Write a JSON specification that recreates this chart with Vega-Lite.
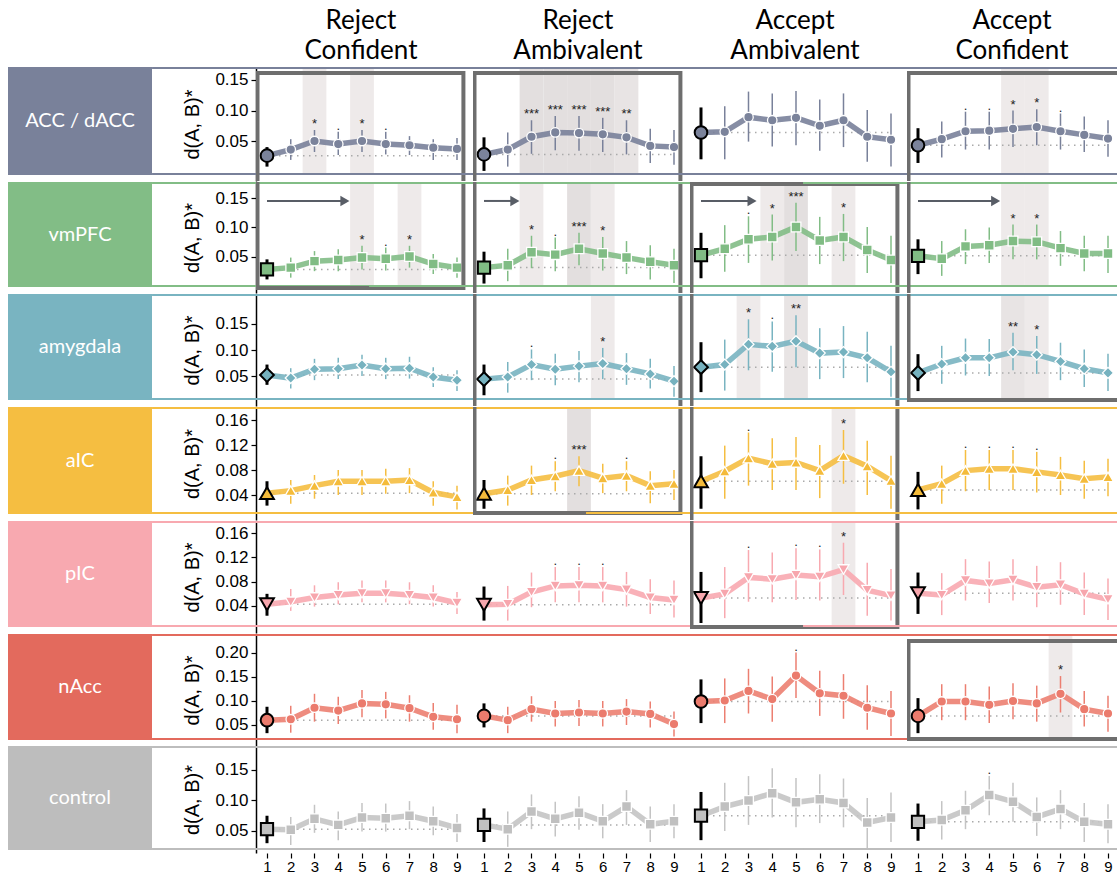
{
"$schema":"https://vega.github.io/schema/vega-lite/v6.json",
"background":"white",
"padding":{"left":8,"top":0,"right":0,"bottom":0},
"spacing":0,
"config":{"view":{"stroke":null},"text":{"font":"Liberation Sans"},
"axisY":{"labelFont":"Liberation Sans","labelFontSize":17,"labelColor":"black","labelOverlap":false,"tickCount":12,"domainColor":"black","domainWidth":1.5,"tickColor":"black","tickSize":5,"tickWidth":1.2,"labelPadding":3,"titleFont":"Liberation Sans","titleFontSize":20,"titleFontWeight":"normal","titleColor":"black","titlePadding":12,"grid":false},
"axisX":{"labelFont":"Liberation Sans","labelFontSize":15,"labelColor":"black","labelOverlap":false,"tickCount":12,"domain":false,"tickColor":"black","tickSize":5,"tickWidth":1.2,"labelPadding":1,"grid":false,"labelAngle":0}},
"datasets":{
"conds":[{"c":"RC","t":"Reject Confident"},{"c":"RA","t":"Reject Ambivalent"},{"c":"AA","t":"Accept Ambivalent"},{"c":"AC","t":"Accept Confident"}],
"reg":[{"r":"acc","n":"ACC / dACC"},{"r":"vm","n":"vmPFC"},{"r":"amy","n":"amygdala"},{"r":"aic","n":"aIC"},{"r":"pic","n":"pIC"},{"r":"nac","n":"nAcc"},{"r":"ctl","n":"control"}],
"d":[
{"r":"acc","c":"RC","x":1,"v":0.026,"lo":0.008,"hi":0.040},
{"r":"acc","c":"RC","x":2,"v":0.036,"lo":0.019,"hi":0.053},
{"r":"acc","c":"RC","x":3,"v":0.050,"lo":0.032,"hi":0.068,"s":"*"},
{"r":"acc","c":"RC","x":4,"v":0.045,"lo":0.027,"hi":0.065,"s":"."},
{"r":"acc","c":"RC","x":5,"v":0.050,"lo":0.032,"hi":0.068,"s":"*"},
{"r":"acc","c":"RC","x":6,"v":0.045,"lo":0.028,"hi":0.065,"s":"."},
{"r":"acc","c":"RC","x":7,"v":0.043,"lo":0.027,"hi":0.058},
{"r":"acc","c":"RC","x":8,"v":0.039,"lo":0.019,"hi":0.053},
{"r":"acc","c":"RC","x":9,"v":0.037,"lo":0.019,"hi":0.055},
{"r":"acc","c":"RA","x":1,"v":0.028,"lo":0.001,"hi":0.056},
{"r":"acc","c":"RA","x":2,"v":0.036,"lo":0.008,"hi":0.064},
{"r":"acc","c":"RA","x":3,"v":0.057,"lo":0.029,"hi":0.084,"s":"***"},
{"r":"acc","c":"RA","x":4,"v":0.064,"lo":0.035,"hi":0.091,"s":"***"},
{"r":"acc","c":"RA","x":5,"v":0.063,"lo":0.034,"hi":0.091,"s":"***"},
{"r":"acc","c":"RA","x":6,"v":0.061,"lo":0.032,"hi":0.088,"s":"***"},
{"r":"acc","c":"RA","x":7,"v":0.056,"lo":0.028,"hi":0.084,"s":"**"},
{"r":"acc","c":"RA","x":8,"v":0.042,"lo":0.014,"hi":0.070},
{"r":"acc","c":"RA","x":9,"v":0.040,"lo":0.011,"hi":0.068},
{"r":"acc","c":"AA","x":1,"v":0.064,"lo":0.020,"hi":0.105},
{"r":"acc","c":"AA","x":2,"v":0.065,"lo":0.020,"hi":0.107},
{"r":"acc","c":"AA","x":3,"v":0.089,"lo":0.049,"hi":0.131},
{"r":"acc","c":"AA","x":4,"v":0.084,"lo":0.041,"hi":0.128},
{"r":"acc","c":"AA","x":5,"v":0.088,"lo":0.043,"hi":0.132},
{"r":"acc","c":"AA","x":6,"v":0.075,"lo":0.034,"hi":0.118},
{"r":"acc","c":"AA","x":7,"v":0.084,"lo":0.040,"hi":0.128},
{"r":"acc","c":"AA","x":8,"v":0.057,"lo":0.016,"hi":0.101},
{"r":"acc","c":"AA","x":9,"v":0.052,"lo":0.008,"hi":0.095},
{"r":"acc","c":"AC","x":1,"v":0.043,"lo":0.014,"hi":0.071},
{"r":"acc","c":"AC","x":2,"v":0.053,"lo":0.023,"hi":0.082},
{"r":"acc","c":"AC","x":3,"v":0.066,"lo":0.036,"hi":0.098,"s":"."},
{"r":"acc","c":"AC","x":4,"v":0.067,"lo":0.036,"hi":0.098,"s":"."},
{"r":"acc","c":"AC","x":5,"v":0.070,"lo":0.040,"hi":0.100,"s":"*"},
{"r":"acc","c":"AC","x":6,"v":0.073,"lo":0.043,"hi":0.102,"s":"*"},
{"r":"acc","c":"AC","x":7,"v":0.066,"lo":0.036,"hi":0.095,"s":"."},
{"r":"acc","c":"AC","x":8,"v":0.060,"lo":0.032,"hi":0.090},
{"r":"acc","c":"AC","x":9,"v":0.054,"lo":0.024,"hi":0.084},
{"r":"vm","c":"RC","x":1,"v":0.029,"lo":0.012,"hi":0.046},
{"r":"vm","c":"RC","x":2,"v":0.032,"lo":0.015,"hi":0.049},
{"r":"vm","c":"RC","x":3,"v":0.043,"lo":0.026,"hi":0.060},
{"r":"vm","c":"RC","x":4,"v":0.045,"lo":0.026,"hi":0.063},
{"r":"vm","c":"RC","x":5,"v":0.049,"lo":0.029,"hi":0.069,"s":"*"},
{"r":"vm","c":"RC","x":6,"v":0.047,"lo":0.027,"hi":0.066,"s":"."},
{"r":"vm","c":"RC","x":7,"v":0.051,"lo":0.032,"hi":0.069,"s":"*"},
{"r":"vm","c":"RC","x":8,"v":0.038,"lo":0.021,"hi":0.055},
{"r":"vm","c":"RC","x":9,"v":0.032,"lo":0.015,"hi":0.049},
{"r":"vm","c":"RA","x":1,"v":0.032,"lo":0.005,"hi":0.059},
{"r":"vm","c":"RA","x":2,"v":0.036,"lo":0.009,"hi":0.064},
{"r":"vm","c":"RA","x":3,"v":0.058,"lo":0.031,"hi":0.086,"s":"*"},
{"r":"vm","c":"RA","x":4,"v":0.054,"lo":0.026,"hi":0.083,"s":"."},
{"r":"vm","c":"RA","x":5,"v":0.064,"lo":0.036,"hi":0.091,"s":"***"},
{"r":"vm","c":"RA","x":6,"v":0.056,"lo":0.027,"hi":0.084,"s":"*"},
{"r":"vm","c":"RA","x":7,"v":0.049,"lo":0.021,"hi":0.077},
{"r":"vm","c":"RA","x":8,"v":0.042,"lo":0.012,"hi":0.070},
{"r":"vm","c":"RA","x":9,"v":0.036,"lo":0.006,"hi":0.064},
{"r":"vm","c":"AA","x":1,"v":0.053,"lo":0.014,"hi":0.091},
{"r":"vm","c":"AA","x":2,"v":0.064,"lo":0.025,"hi":0.104},
{"r":"vm","c":"AA","x":3,"v":0.080,"lo":0.040,"hi":0.119,"s":"."},
{"r":"vm","c":"AA","x":4,"v":0.084,"lo":0.044,"hi":0.122,"s":"*"},
{"r":"vm","c":"AA","x":5,"v":0.101,"lo":0.060,"hi":0.142,"s":"***"},
{"r":"vm","c":"AA","x":6,"v":0.078,"lo":0.038,"hi":0.118},
{"r":"vm","c":"AA","x":7,"v":0.084,"lo":0.043,"hi":0.123,"s":"*"},
{"r":"vm","c":"AA","x":8,"v":0.062,"lo":0.023,"hi":0.101},
{"r":"vm","c":"AA","x":9,"v":0.045,"lo":0.006,"hi":0.086},
{"r":"vm","c":"AC","x":1,"v":0.052,"lo":0.021,"hi":0.080},
{"r":"vm","c":"AC","x":2,"v":0.047,"lo":0.018,"hi":0.077},
{"r":"vm","c":"AC","x":3,"v":0.068,"lo":0.038,"hi":0.097},
{"r":"vm","c":"AC","x":4,"v":0.070,"lo":0.040,"hi":0.100},
{"r":"vm","c":"AC","x":5,"v":0.077,"lo":0.046,"hi":0.105,"s":"*"},
{"r":"vm","c":"AC","x":6,"v":0.076,"lo":0.046,"hi":0.105,"s":"*"},
{"r":"vm","c":"AC","x":7,"v":0.065,"lo":0.035,"hi":0.094},
{"r":"vm","c":"AC","x":8,"v":0.056,"lo":0.026,"hi":0.086},
{"r":"vm","c":"AC","x":9,"v":0.056,"lo":0.023,"hi":0.086},
{"r":"amy","c":"RC","x":1,"v":0.052,"lo":0.033,"hi":0.072},
{"r":"amy","c":"RC","x":2,"v":0.046,"lo":0.026,"hi":0.065},
{"r":"amy","c":"RC","x":3,"v":0.063,"lo":0.042,"hi":0.083},
{"r":"amy","c":"RC","x":4,"v":0.064,"lo":0.044,"hi":0.085},
{"r":"amy","c":"RC","x":5,"v":0.071,"lo":0.050,"hi":0.091},
{"r":"amy","c":"RC","x":6,"v":0.064,"lo":0.044,"hi":0.085},
{"r":"amy","c":"RC","x":7,"v":0.065,"lo":0.045,"hi":0.087},
{"r":"amy","c":"RC","x":8,"v":0.048,"lo":0.029,"hi":0.067},
{"r":"amy","c":"RC","x":9,"v":0.042,"lo":0.021,"hi":0.061},
{"r":"amy","c":"RA","x":1,"v":0.044,"lo":0.013,"hi":0.072},
{"r":"amy","c":"RA","x":2,"v":0.048,"lo":0.018,"hi":0.077},
{"r":"amy","c":"RA","x":3,"v":0.072,"lo":0.042,"hi":0.101,"s":"."},
{"r":"amy","c":"RA","x":4,"v":0.063,"lo":0.032,"hi":0.093},
{"r":"amy","c":"RA","x":5,"v":0.069,"lo":0.038,"hi":0.098},
{"r":"amy","c":"RA","x":6,"v":0.074,"lo":0.044,"hi":0.104,"s":"*"},
{"r":"amy","c":"RA","x":7,"v":0.064,"lo":0.033,"hi":0.094},
{"r":"amy","c":"RA","x":8,"v":0.054,"lo":0.026,"hi":0.083},
{"r":"amy","c":"RA","x":9,"v":0.040,"lo":0.010,"hi":0.069},
{"r":"amy","c":"AA","x":1,"v":0.067,"lo":0.019,"hi":0.115},
{"r":"amy","c":"AA","x":2,"v":0.072,"lo":0.022,"hi":0.120},
{"r":"amy","c":"AA","x":3,"v":0.111,"lo":0.061,"hi":0.159,"s":"*"},
{"r":"amy","c":"AA","x":4,"v":0.107,"lo":0.058,"hi":0.155,"s":"."},
{"r":"amy","c":"AA","x":5,"v":0.117,"lo":0.067,"hi":0.167,"s":"**"},
{"r":"amy","c":"AA","x":6,"v":0.094,"lo":0.044,"hi":0.142},
{"r":"amy","c":"AA","x":7,"v":0.096,"lo":0.046,"hi":0.146},
{"r":"amy","c":"AA","x":8,"v":0.085,"lo":0.038,"hi":0.135},
{"r":"amy","c":"AA","x":9,"v":0.058,"lo":0.010,"hi":0.108},
{"r":"amy","c":"AC","x":1,"v":0.056,"lo":0.021,"hi":0.092},
{"r":"amy","c":"AC","x":2,"v":0.073,"lo":0.035,"hi":0.108},
{"r":"amy","c":"AC","x":3,"v":0.085,"lo":0.051,"hi":0.122},
{"r":"amy","c":"AC","x":4,"v":0.085,"lo":0.050,"hi":0.121},
{"r":"amy","c":"AC","x":5,"v":0.096,"lo":0.061,"hi":0.133,"s":"**"},
{"r":"amy","c":"AC","x":6,"v":0.091,"lo":0.054,"hi":0.127,"s":"*"},
{"r":"amy","c":"AC","x":7,"v":0.078,"lo":0.042,"hi":0.114},
{"r":"amy","c":"AC","x":8,"v":0.064,"lo":0.029,"hi":0.101},
{"r":"amy","c":"AC","x":9,"v":0.056,"lo":0.021,"hi":0.093},
{"r":"aic","c":"RC","x":1,"v":0.043,"lo":0.023,"hi":0.062},
{"r":"aic","c":"RC","x":2,"v":0.047,"lo":0.026,"hi":0.064},
{"r":"aic","c":"RC","x":3,"v":0.055,"lo":0.034,"hi":0.072},
{"r":"aic","c":"RC","x":4,"v":0.062,"lo":0.040,"hi":0.080},
{"r":"aic","c":"RC","x":5,"v":0.062,"lo":0.040,"hi":0.080},
{"r":"aic","c":"RC","x":6,"v":0.062,"lo":0.042,"hi":0.082},
{"r":"aic","c":"RC","x":7,"v":0.064,"lo":0.043,"hi":0.083},
{"r":"aic","c":"RC","x":8,"v":0.044,"lo":0.023,"hi":0.062},
{"r":"aic","c":"RC","x":9,"v":0.037,"lo":0.017,"hi":0.055},
{"r":"aic","c":"RA","x":1,"v":0.042,"lo":0.018,"hi":0.064},
{"r":"aic","c":"RA","x":2,"v":0.048,"lo":0.023,"hi":0.071},
{"r":"aic","c":"RA","x":3,"v":0.064,"lo":0.040,"hi":0.087},
{"r":"aic","c":"RA","x":4,"v":0.070,"lo":0.046,"hi":0.094,"s":"."},
{"r":"aic","c":"RA","x":5,"v":0.079,"lo":0.054,"hi":0.102,"s":"***"},
{"r":"aic","c":"RA","x":6,"v":0.067,"lo":0.043,"hi":0.090},
{"r":"aic","c":"RA","x":7,"v":0.071,"lo":0.046,"hi":0.094,"s":"."},
{"r":"aic","c":"RA","x":8,"v":0.055,"lo":0.027,"hi":0.078},
{"r":"aic","c":"RA","x":9,"v":0.058,"lo":0.032,"hi":0.080},
{"r":"aic","c":"AA","x":1,"v":0.062,"lo":0.018,"hi":0.102},
{"r":"aic","c":"AA","x":2,"v":0.078,"lo":0.034,"hi":0.119},
{"r":"aic","c":"AA","x":3,"v":0.099,"lo":0.055,"hi":0.140,"s":"."},
{"r":"aic","c":"AA","x":4,"v":0.090,"lo":0.048,"hi":0.131},
{"r":"aic","c":"AA","x":5,"v":0.092,"lo":0.048,"hi":0.133},
{"r":"aic","c":"AA","x":6,"v":0.079,"lo":0.035,"hi":0.120},
{"r":"aic","c":"AA","x":7,"v":0.103,"lo":0.058,"hi":0.144,"s":"*"},
{"r":"aic","c":"AA","x":8,"v":0.086,"lo":0.040,"hi":0.127},
{"r":"aic","c":"AA","x":9,"v":0.063,"lo":0.018,"hi":0.103},
{"r":"aic","c":"AC","x":1,"v":0.048,"lo":0.017,"hi":0.077},
{"r":"aic","c":"AC","x":2,"v":0.058,"lo":0.026,"hi":0.087},
{"r":"aic","c":"AC","x":3,"v":0.079,"lo":0.046,"hi":0.112,"s":"."},
{"r":"aic","c":"AC","x":4,"v":0.082,"lo":0.048,"hi":0.112,"s":"."},
{"r":"aic","c":"AC","x":5,"v":0.082,"lo":0.048,"hi":0.112,"s":"."},
{"r":"aic","c":"AC","x":6,"v":0.077,"lo":0.044,"hi":0.109,"s":"."},
{"r":"aic","c":"AC","x":7,"v":0.072,"lo":0.040,"hi":0.101},
{"r":"aic","c":"AC","x":8,"v":0.066,"lo":0.034,"hi":0.095},
{"r":"aic","c":"AC","x":9,"v":0.069,"lo":0.038,"hi":0.098},
{"r":"pic","c":"RC","x":1,"v":0.043,"lo":0.024,"hi":0.060},
{"r":"pic","c":"RC","x":2,"v":0.047,"lo":0.032,"hi":0.068},
{"r":"pic","c":"RC","x":3,"v":0.054,"lo":0.039,"hi":0.074},
{"r":"pic","c":"RC","x":4,"v":0.058,"lo":0.043,"hi":0.079},
{"r":"pic","c":"RC","x":5,"v":0.061,"lo":0.046,"hi":0.082},
{"r":"pic","c":"RC","x":6,"v":0.061,"lo":0.046,"hi":0.082},
{"r":"pic","c":"RC","x":7,"v":0.058,"lo":0.043,"hi":0.079},
{"r":"pic","c":"RC","x":8,"v":0.054,"lo":0.039,"hi":0.074},
{"r":"pic","c":"RC","x":9,"v":0.045,"lo":0.027,"hi":0.063},
{"r":"pic","c":"RA","x":1,"v":0.042,"lo":0.016,"hi":0.072},
{"r":"pic","c":"RA","x":2,"v":0.043,"lo":0.016,"hi":0.073},
{"r":"pic","c":"RA","x":3,"v":0.063,"lo":0.038,"hi":0.095},
{"r":"pic","c":"RA","x":4,"v":0.073,"lo":0.046,"hi":0.104,"s":"."},
{"r":"pic","c":"RA","x":5,"v":0.074,"lo":0.046,"hi":0.104,"s":"."},
{"r":"pic","c":"RA","x":6,"v":0.073,"lo":0.046,"hi":0.104,"s":"."},
{"r":"pic","c":"RA","x":7,"v":0.067,"lo":0.039,"hi":0.096},
{"r":"pic","c":"RA","x":8,"v":0.054,"lo":0.027,"hi":0.084},
{"r":"pic","c":"RA","x":9,"v":0.050,"lo":0.021,"hi":0.082},
{"r":"pic","c":"AA","x":1,"v":0.053,"lo":0.012,"hi":0.096},
{"r":"pic","c":"AA","x":2,"v":0.060,"lo":0.020,"hi":0.104},
{"r":"pic","c":"AA","x":3,"v":0.087,"lo":0.047,"hi":0.132,"s":"."},
{"r":"pic","c":"AA","x":4,"v":0.084,"lo":0.046,"hi":0.128},
{"r":"pic","c":"AA","x":5,"v":0.091,"lo":0.050,"hi":0.135,"s":"."},
{"r":"pic","c":"AA","x":6,"v":0.088,"lo":0.049,"hi":0.133,"s":"."},
{"r":"pic","c":"AA","x":7,"v":0.100,"lo":0.058,"hi":0.144,"s":"*"},
{"r":"pic","c":"AA","x":8,"v":0.066,"lo":0.024,"hi":0.111},
{"r":"pic","c":"AA","x":9,"v":0.057,"lo":0.016,"hi":0.101},
{"r":"pic","c":"AC","x":1,"v":0.061,"lo":0.027,"hi":0.095},
{"r":"pic","c":"AC","x":2,"v":0.058,"lo":0.025,"hi":0.094},
{"r":"pic","c":"AC","x":3,"v":0.082,"lo":0.049,"hi":0.117},
{"r":"pic","c":"AC","x":4,"v":0.077,"lo":0.045,"hi":0.113},
{"r":"pic","c":"AC","x":5,"v":0.083,"lo":0.049,"hi":0.117},
{"r":"pic","c":"AC","x":6,"v":0.071,"lo":0.038,"hi":0.106},
{"r":"pic","c":"AC","x":7,"v":0.075,"lo":0.042,"hi":0.112},
{"r":"pic","c":"AC","x":8,"v":0.060,"lo":0.025,"hi":0.095},
{"r":"pic","c":"AC","x":9,"v":0.051,"lo":0.017,"hi":0.085},
{"r":"nac","c":"RC","x":1,"v":0.060,"lo":0.033,"hi":0.088},
{"r":"nac","c":"RC","x":2,"v":0.062,"lo":0.034,"hi":0.090},
{"r":"nac","c":"RC","x":3,"v":0.086,"lo":0.057,"hi":0.115},
{"r":"nac","c":"RC","x":4,"v":0.080,"lo":0.052,"hi":0.109},
{"r":"nac","c":"RC","x":5,"v":0.095,"lo":0.066,"hi":0.123},
{"r":"nac","c":"RC","x":6,"v":0.093,"lo":0.064,"hi":0.119},
{"r":"nac","c":"RC","x":7,"v":0.085,"lo":0.057,"hi":0.112},
{"r":"nac","c":"RC","x":8,"v":0.067,"lo":0.040,"hi":0.096},
{"r":"nac","c":"RC","x":9,"v":0.062,"lo":0.033,"hi":0.092},
{"r":"nac","c":"RA","x":1,"v":0.069,"lo":0.045,"hi":0.095},
{"r":"nac","c":"RA","x":2,"v":0.060,"lo":0.033,"hi":0.088},
{"r":"nac","c":"RA","x":3,"v":0.083,"lo":0.057,"hi":0.110},
{"r":"nac","c":"RA","x":4,"v":0.074,"lo":0.047,"hi":0.100},
{"r":"nac","c":"RA","x":5,"v":0.076,"lo":0.048,"hi":0.102},
{"r":"nac","c":"RA","x":6,"v":0.074,"lo":0.047,"hi":0.100},
{"r":"nac","c":"RA","x":7,"v":0.078,"lo":0.050,"hi":0.104},
{"r":"nac","c":"RA","x":8,"v":0.073,"lo":0.045,"hi":0.099},
{"r":"nac","c":"RA","x":9,"v":0.052,"lo":0.026,"hi":0.078},
{"r":"nac","c":"AA","x":1,"v":0.099,"lo":0.054,"hi":0.145},
{"r":"nac","c":"AA","x":2,"v":0.101,"lo":0.054,"hi":0.147},
{"r":"nac","c":"AA","x":3,"v":0.121,"lo":0.074,"hi":0.167},
{"r":"nac","c":"AA","x":4,"v":0.104,"lo":0.057,"hi":0.151},
{"r":"nac","c":"AA","x":5,"v":0.153,"lo":0.106,"hi":0.201,"s":"."},
{"r":"nac","c":"AA","x":6,"v":0.116,"lo":0.069,"hi":0.163},
{"r":"nac","c":"AA","x":7,"v":0.111,"lo":0.063,"hi":0.156},
{"r":"nac","c":"AA","x":8,"v":0.086,"lo":0.040,"hi":0.133},
{"r":"nac","c":"AA","x":9,"v":0.074,"lo":0.027,"hi":0.121},
{"r":"nac","c":"AC","x":1,"v":0.069,"lo":0.033,"hi":0.106},
{"r":"nac","c":"AC","x":2,"v":0.099,"lo":0.060,"hi":0.135},
{"r":"nac","c":"AC","x":3,"v":0.099,"lo":0.060,"hi":0.135},
{"r":"nac","c":"AC","x":4,"v":0.092,"lo":0.054,"hi":0.130},
{"r":"nac","c":"AC","x":5,"v":0.100,"lo":0.062,"hi":0.137},
{"r":"nac","c":"AC","x":6,"v":0.095,"lo":0.057,"hi":0.132},
{"r":"nac","c":"AC","x":7,"v":0.115,"lo":0.076,"hi":0.152,"s":"*"},
{"r":"nac","c":"AC","x":8,"v":0.083,"lo":0.047,"hi":0.121},
{"r":"nac","c":"AC","x":9,"v":0.074,"lo":0.036,"hi":0.111},
{"r":"ctl","c":"RC","x":1,"v":0.053,"lo":0.030,"hi":0.075},
{"r":"ctl","c":"RC","x":2,"v":0.052,"lo":0.027,"hi":0.073},
{"r":"ctl","c":"RC","x":3,"v":0.070,"lo":0.047,"hi":0.093},
{"r":"ctl","c":"RC","x":4,"v":0.060,"lo":0.035,"hi":0.082},
{"r":"ctl","c":"RC","x":5,"v":0.072,"lo":0.049,"hi":0.096},
{"r":"ctl","c":"RC","x":6,"v":0.071,"lo":0.049,"hi":0.095},
{"r":"ctl","c":"RC","x":7,"v":0.075,"lo":0.053,"hi":0.099},
{"r":"ctl","c":"RC","x":8,"v":0.066,"lo":0.043,"hi":0.090},
{"r":"ctl","c":"RC","x":9,"v":0.055,"lo":0.032,"hi":0.078},
{"r":"ctl","c":"RA","x":1,"v":0.060,"lo":0.032,"hi":0.087},
{"r":"ctl","c":"RA","x":2,"v":0.053,"lo":0.024,"hi":0.082},
{"r":"ctl","c":"RA","x":3,"v":0.082,"lo":0.053,"hi":0.110},
{"r":"ctl","c":"RA","x":4,"v":0.070,"lo":0.041,"hi":0.098},
{"r":"ctl","c":"RA","x":5,"v":0.080,"lo":0.052,"hi":0.107},
{"r":"ctl","c":"RA","x":6,"v":0.066,"lo":0.038,"hi":0.094},
{"r":"ctl","c":"RA","x":7,"v":0.090,"lo":0.060,"hi":0.117},
{"r":"ctl","c":"RA","x":8,"v":0.061,"lo":0.032,"hi":0.090},
{"r":"ctl","c":"RA","x":9,"v":0.066,"lo":0.038,"hi":0.094},
{"r":"ctl","c":"AA","x":1,"v":0.075,"lo":0.035,"hi":0.114},
{"r":"ctl","c":"AA","x":2,"v":0.090,"lo":0.050,"hi":0.129},
{"r":"ctl","c":"AA","x":3,"v":0.100,"lo":0.060,"hi":0.140},
{"r":"ctl","c":"AA","x":4,"v":0.112,"lo":0.072,"hi":0.153},
{"r":"ctl","c":"AA","x":5,"v":0.097,"lo":0.056,"hi":0.137},
{"r":"ctl","c":"AA","x":6,"v":0.102,"lo":0.063,"hi":0.143},
{"r":"ctl","c":"AA","x":7,"v":0.096,"lo":0.056,"hi":0.136},
{"r":"ctl","c":"AA","x":8,"v":0.064,"lo":0.022,"hi":0.104},
{"r":"ctl","c":"AA","x":9,"v":0.072,"lo":0.032,"hi":0.113},
{"r":"ctl","c":"AC","x":1,"v":0.065,"lo":0.034,"hi":0.095},
{"r":"ctl","c":"AC","x":2,"v":0.068,"lo":0.036,"hi":0.099},
{"r":"ctl","c":"AC","x":3,"v":0.084,"lo":0.053,"hi":0.116},
{"r":"ctl","c":"AC","x":4,"v":0.109,"lo":0.076,"hi":0.140,"s":"."},
{"r":"ctl","c":"AC","x":5,"v":0.098,"lo":0.065,"hi":0.129},
{"r":"ctl","c":"AC","x":6,"v":0.073,"lo":0.042,"hi":0.105},
{"r":"ctl","c":"AC","x":7,"v":0.086,"lo":0.053,"hi":0.117},
{"r":"ctl","c":"AC","x":8,"v":0.065,"lo":0.032,"hi":0.096},
{"r":"ctl","c":"AC","x":9,"v":0.061,"lo":0.030,"hi":0.094},
{"k":"box","r":"acc","c":"RC","seg":"top"},
{"k":"box","r":"acc","c":"RA","seg":"top"},
{"k":"box","r":"acc","c":"AC","seg":"top"},
{"k":"box","r":"vm","c":"RC","seg":"bot"},
{"k":"box","r":"vm","c":"RA","seg":"mid"},
{"k":"box","r":"vm","c":"AA","seg":"top"},
{"k":"box","r":"vm","c":"AC","seg":"mid"},
{"k":"box","r":"amy","c":"RA","seg":"mid"},
{"k":"box","r":"amy","c":"AA","seg":"mid"},
{"k":"box","r":"amy","c":"AC","seg":"bot"},
{"k":"box","r":"aic","c":"RA","seg":"bot"},
{"k":"box","r":"aic","c":"AA","seg":"mid"},
{"k":"box","r":"pic","c":"AA","seg":"bot"},
{"k":"box","r":"nac","c":"AC","seg":"all"},
{"k":"arrow","r":"vm","c":"RC"},
{"k":"arrow","r":"vm","c":"RA"},
{"k":"arrow","r":"vm","c":"AA"},
{"k":"arrow","r":"vm","c":"AC"}
]},
"vconcat":[
{"hconcat":[
 {"width":144,"height":67,"data":{"values":[{}]},"mark":{"type":"text"},"encoding":{"text":{"value":""}}},
 {"data":{"name":"conds"},"facet":{"column":{"field":"c","type":"nominal","sort":["RC","RA","AA","AC"],"header":null}},"spacing":7,"bounds":"flush",
  "spec":{"width":210,"height":67,"mark":{"type":"text","lineBreak":" ","fontSize":26,"font":"Lato","lineHeight":30,"baseline":"top","dy":-26,"color":"black"},"encoding":{"text":{"field":"t","type":"nominal"}}}}
],"spacing":104,"bounds":"flush"},

{"hconcat":[
 {"width":144,"height":108,"data":{"name":"reg"},"transform":[{"filter":"datum.r=='acc'"}],"view":{"fill":"#79819a","stroke":null},"mark":{"type":"text","color":"white","fontSize":20,"font":"Lato"},"encoding":{"text":{"field":"n","type":"nominal"}}},
 {"data":{"name":"d"},"transform":[{"filter":"datum.r=='acc'"}],"facet":{"column":{"field":"c","type":"nominal","sort":["RC","RA","AA","AC"],"header":null}},"spacing":7,"bounds":"flush",
  "spec":{"width":210,"height":114,"layer":[
   {"transform":[{"filter":"datum.s=='*'||datum.s=='**'||datum.s=='***'"}],"mark":{"type":"rule","strokeWidth":23.75,"clip":true},"encoding":{"x":{"field":"x","type":"quantitative","scale":{"domain":[0.537,9.379],"nice":false,"zero":false,"padding":0},"axis":null},"y":{"datum":0.16967,"type":"quantitative","scale":{"domain":[-0.01557,0.17131],"nice":false,"zero":false,"padding":0},"axis":{"values":[0.05,0.1,0.15],"format":".2f","title":"d(A, B)*"}},"y2":{"datum":-0.0041},"color":{"field":"s","type":"nominal","scale":{"domain":["*","**","***"],"range":["#eeeaea","#e8e4e4","#e3dfdf"]},"legend":null}}},
   {"transform":[{"filter":"datum.x==1"}],"mark":{"type":"rule","color":"#79819a","strokeWidth":2},"encoding":{"x":{"datum":-3.84,"type":"quantitative","axis":null},"x2":{"datum":9.379},"y":{"datum":0.16967,"type":"quantitative"}}},
   {"transform":[{"filter":"datum.x==1"}],"mark":{"type":"rule","color":"#79819a","strokeWidth":2},"encoding":{"x":{"datum":-3.84,"type":"quantitative","axis":null},"x2":{"datum":9.379},"y":{"datum":-0.0041,"type":"quantitative"}}},
   {"transform":[{"filter":"datum.x==1"}],"mark":{"type":"rule","color":"#aaaaaa","strokeWidth":1.5,"strokeDash":[1.5,4.5]},"encoding":{"x":{"datum":1,"type":"quantitative","axis":null},"x2":{"datum":9},"y":{"field":"v","type":"quantitative"}}},
   {"transform":[{"filter":"datum.x>0"}],"mark":{"type":"rule"},"encoding":{"x":{"field":"x","type":"quantitative","axis":null},"y":{"field":"lo","type":"quantitative"},"y2":{"field":"hi"},"color":{"condition":{"test":"datum.x==1","value":"black"},"value":"#79819a"},"strokeWidth":{"condition":{"test":"datum.x==1","value":3},"value":1.5}}},
   {"transform":[{"filter":"datum.x>0"}],"mark":{"type":"line","color":"#79819a","strokeWidth":5.5,"opacity":0.9},"encoding":{"x":{"field":"x","type":"quantitative","axis":null},"y":{"field":"v","type":"quantitative"}}},
   {"transform":[{"filter":"datum.x>0"}],"mark":{"type":"point","shape":"circle","filled":true,"fill":"#7b839b","opacity":1},"encoding":{"x":{"field":"x","type":"quantitative","axis":null},"y":{"field":"v","type":"quantitative"},"stroke":{"condition":{"test":"datum.x==1","value":"black"},"value":"white"},"strokeWidth":{"condition":{"test":"datum.x==1","value":2},"value":1.3},"size":{"condition":{"test":"datum.x==1","value":160},"value":90}}},
   {"transform":[{"filter":"datum.s"}],"mark":{"type":"text","baseline":"alphabetic","dy":-2,"fontSize":13,"color":"#222222"},"encoding":{"x":{"field":"x","type":"quantitative","axis":null},"y":{"field":"hi","type":"quantitative"},"text":{"field":"s","type":"nominal"}}},
   {"transform":[{"filter":"datum.k=='box'&&datum.seg=='top'&&datum.c!='AC'"}],"mark":{"type":"rect","filled":false,"color":"#6e6e6e","strokeWidth":4,"clip":true},"encoding":{"x":{"datum":0.6,"type":"quantitative","axis":null},"x2":{"datum":9.27},"y":{"datum":0.1615,"type":"quantitative"},"y2":{"datum":-0.066}}},
   {"transform":[{"filter":"datum.k=='box'&&datum.seg=='top'&&datum.c=='AC'"}],"mark":{"type":"rect","filled":false,"color":"#6e6e6e","strokeWidth":4,"clip":true},"encoding":{"x":{"datum":0.6,"type":"quantitative","axis":null},"x2":{"datum":9.6},"y":{"datum":0.1615,"type":"quantitative"},"y2":{"datum":-0.066}}}
  ]}}
],"spacing":104,"bounds":"flush"},

{"hconcat":[
 {"width":144,"height":105,"data":{"name":"reg"},"transform":[{"filter":"datum.r=='vm'"}],"view":{"fill":"#82bd86","stroke":null},"mark":{"type":"text","color":"white","fontSize":20,"font":"Lato"},"encoding":{"text":{"field":"n","type":"nominal"}}},
 {"data":{"name":"d"},"transform":[{"filter":"datum.r=='vm'"}],"facet":{"column":{"field":"c","type":"nominal","sort":["RC","RA","AA","AC"],"header":null}},"spacing":7,"bounds":"flush",
  "spec":{"width":210,"height":111,"layer":[
   {"transform":[{"filter":"datum.s=='*'||datum.s=='**'||datum.s=='***'"}],"mark":{"type":"rule","strokeWidth":23.75,"clip":true},"encoding":{"x":{"field":"x","type":"quantitative","scale":{"domain":[0.537,9.379],"nice":false,"zero":false,"padding":0},"axis":null},"y":{"datum":0.17543,"type":"quantitative","scale":{"domain":[-0.01102,0.17712],"nice":false,"zero":false,"padding":0},"axis":{"values":[0.05,0.1,0.15],"format":".2f","title":"d(A, B)*"}},"y2":{"datum":0.00085},"color":{"field":"s","type":"nominal","scale":{"domain":["*","**","***"],"range":["#eeeaea","#e8e4e4","#e3dfdf"]},"legend":null}}},
   {"transform":[{"filter":"datum.x==1"}],"mark":{"type":"rule","color":"#82bd86","strokeWidth":2},"encoding":{"x":{"datum":-3.84,"type":"quantitative","axis":null},"x2":{"datum":9.379},"y":{"datum":0.17543,"type":"quantitative"}}},
   {"transform":[{"filter":"datum.x==1"}],"mark":{"type":"rule","color":"#82bd86","strokeWidth":2},"encoding":{"x":{"datum":-3.84,"type":"quantitative","axis":null},"x2":{"datum":9.379},"y":{"datum":0.00085,"type":"quantitative"}}},
   {"transform":[{"filter":"datum.x==1"}],"mark":{"type":"rule","color":"#aaaaaa","strokeWidth":1.5,"strokeDash":[1.5,4.5]},"encoding":{"x":{"datum":1,"type":"quantitative","axis":null},"x2":{"datum":9},"y":{"field":"v","type":"quantitative"}}},
   {"transform":[{"filter":"datum.x>0"}],"mark":{"type":"rule"},"encoding":{"x":{"field":"x","type":"quantitative","axis":null},"y":{"field":"lo","type":"quantitative"},"y2":{"field":"hi"},"color":{"condition":{"test":"datum.x==1","value":"black"},"value":"#82bd86"},"strokeWidth":{"condition":{"test":"datum.x==1","value":3},"value":1.5}}},
   {"transform":[{"filter":"datum.x>0"}],"mark":{"type":"line","color":"#82bd86","strokeWidth":5.5,"opacity":0.9},"encoding":{"x":{"field":"x","type":"quantitative","axis":null},"y":{"field":"v","type":"quantitative"}}},
   {"transform":[{"filter":"datum.x>0"}],"mark":{"type":"point","shape":"square","filled":true,"fill":"#80bc84","opacity":1},"encoding":{"x":{"field":"x","type":"quantitative","axis":null},"y":{"field":"v","type":"quantitative"},"stroke":{"condition":{"test":"datum.x==1","value":"black"},"value":"white"},"strokeWidth":{"condition":{"test":"datum.x==1","value":2},"value":1.3},"size":{"condition":{"test":"datum.x==1","value":150},"value":95}}},
   {"transform":[{"filter":"datum.s"}],"mark":{"type":"text","baseline":"alphabetic","dy":-2,"fontSize":13,"color":"#222222"},"encoding":{"x":{"field":"x","type":"quantitative","axis":null},"y":{"field":"hi","type":"quantitative"},"text":{"field":"s","type":"nominal"}}},
   {"transform":[{"filter":"datum.k=='arrow'&&datum.c=='RC'"}],"mark":{"type":"rule","color":"#585d66","strokeWidth":2},"encoding":{"x":{"datum":1,"type":"quantitative","axis":null},"x2":{"datum":4.28},"y":{"datum":0.145,"type":"quantitative"}}},
   {"transform":[{"filter":"datum.k=='arrow'&&datum.c=='RA'"}],"mark":{"type":"rule","color":"#585d66","strokeWidth":2},"encoding":{"x":{"datum":1,"type":"quantitative","axis":null},"x2":{"datum":2.3},"y":{"datum":0.145,"type":"quantitative"}}},
   {"transform":[{"filter":"datum.k=='arrow'&&datum.c=='AA'"}],"mark":{"type":"rule","color":"#585d66","strokeWidth":2},"encoding":{"x":{"datum":1,"type":"quantitative","axis":null},"x2":{"datum":3.15},"y":{"datum":0.145,"type":"quantitative"}}},
   {"transform":[{"filter":"datum.k=='arrow'&&datum.c=='AC'"}],"mark":{"type":"rule","color":"#585d66","strokeWidth":2},"encoding":{"x":{"datum":1,"type":"quantitative","axis":null},"x2":{"datum":4.27},"y":{"datum":0.145,"type":"quantitative"}}},
   {"transform":[{"filter":"datum.k=='arrow'&&datum.c=='RC'"}],"mark":{"type":"point","shape":"triangle-right","filled":true,"color":"#585d66","size":110,"opacity":1},"encoding":{"x":{"datum":4.28,"type":"quantitative","axis":null},"y":{"datum":0.145,"type":"quantitative"}}},
   {"transform":[{"filter":"datum.k=='arrow'&&datum.c=='RA'"}],"mark":{"type":"point","shape":"triangle-right","filled":true,"color":"#585d66","size":110,"opacity":1},"encoding":{"x":{"datum":2.3,"type":"quantitative","axis":null},"y":{"datum":0.145,"type":"quantitative"}}},
   {"transform":[{"filter":"datum.k=='arrow'&&datum.c=='AA'"}],"mark":{"type":"point","shape":"triangle-right","filled":true,"color":"#585d66","size":110,"opacity":1},"encoding":{"x":{"datum":3.15,"type":"quantitative","axis":null},"y":{"datum":0.145,"type":"quantitative"}}},
   {"transform":[{"filter":"datum.k=='arrow'&&datum.c=='AC'"}],"mark":{"type":"point","shape":"triangle-right","filled":true,"color":"#585d66","size":110,"opacity":1},"encoding":{"x":{"datum":4.27,"type":"quantitative","axis":null},"y":{"datum":0.145,"type":"quantitative"}}},
   {"transform":[{"filter":"datum.k=='box'&&datum.seg=='bot'&&datum.c!='AC'"}],"mark":{"type":"rect","filled":false,"color":"#6e6e6e","strokeWidth":4,"clip":true},"encoding":{"x":{"datum":0.6,"type":"quantitative","axis":null},"x2":{"datum":9.27},"y":{"datum":0.227,"type":"quantitative"},"y2":{"datum":-0.0025}}},
   {"transform":[{"filter":"datum.k=='box'&&datum.seg=='mid'&&datum.c!='AC'"}],"mark":{"type":"rect","filled":false,"color":"#6e6e6e","strokeWidth":4,"clip":true},"encoding":{"x":{"datum":0.6,"type":"quantitative","axis":null},"x2":{"datum":9.27},"y":{"datum":0.227,"type":"quantitative"},"y2":{"datum":-0.061}}},
   {"transform":[{"filter":"datum.k=='box'&&datum.seg=='top'&&datum.c!='AC'"}],"mark":{"type":"rect","filled":false,"color":"#6e6e6e","strokeWidth":4,"clip":true},"encoding":{"x":{"datum":0.6,"type":"quantitative","axis":null},"x2":{"datum":9.27},"y":{"datum":0.1737,"type":"quantitative"},"y2":{"datum":-0.061}}},
   {"transform":[{"filter":"datum.k=='box'&&datum.seg=='mid'&&datum.c=='AC'"}],"mark":{"type":"rect","filled":false,"color":"#6e6e6e","strokeWidth":4,"clip":true},"encoding":{"x":{"datum":0.6,"type":"quantitative","axis":null},"x2":{"datum":9.6},"y":{"datum":0.227,"type":"quantitative"},"y2":{"datum":-0.061}}}
  ]}}
],"spacing":104,"bounds":"flush"},

{"hconcat":[
 {"width":144,"height":106,"data":{"name":"reg"},"transform":[{"filter":"datum.r=='amy'"}],"view":{"fill":"#79b4c1","stroke":null},"mark":{"type":"text","color":"white","fontSize":20,"font":"Lato"},"encoding":{"text":{"field":"n","type":"nominal"}}},
 {"data":{"name":"d"},"transform":[{"filter":"datum.r=='amy'"}],"facet":{"column":{"field":"c","type":"nominal","sort":["RC","RA","AA","AC"],"header":null}},"spacing":7,"bounds":"flush",
  "spec":{"width":210,"height":112,"layer":[
   {"transform":[{"filter":"datum.s=='*'||datum.s=='**'||datum.s=='***'"}],"mark":{"type":"rule","strokeWidth":23.75,"clip":true},"encoding":{"x":{"field":"x","type":"quantitative","scale":{"domain":[0.537,9.379],"nice":false,"zero":false,"padding":0},"axis":null},"y":{"datum":0.20577,"type":"quantitative","scale":{"domain":[-0.00769,0.20769],"nice":false,"zero":false,"padding":0},"axis":{"values":[0.05,0.1,0.15],"format":".2f","title":"d(A, B)*"}},"y2":{"datum":0.00577},"color":{"field":"s","type":"nominal","scale":{"domain":["*","**","***"],"range":["#eeeaea","#e8e4e4","#e3dfdf"]},"legend":null}}},
   {"transform":[{"filter":"datum.x==1"}],"mark":{"type":"rule","color":"#79b4c1","strokeWidth":2},"encoding":{"x":{"datum":-3.84,"type":"quantitative","axis":null},"x2":{"datum":9.379},"y":{"datum":0.20577,"type":"quantitative"}}},
   {"transform":[{"filter":"datum.x==1"}],"mark":{"type":"rule","color":"#79b4c1","strokeWidth":2},"encoding":{"x":{"datum":-3.84,"type":"quantitative","axis":null},"x2":{"datum":9.379},"y":{"datum":0.00577,"type":"quantitative"}}},
   {"transform":[{"filter":"datum.x==1"}],"mark":{"type":"rule","color":"#aaaaaa","strokeWidth":1.5,"strokeDash":[1.5,4.5]},"encoding":{"x":{"datum":1,"type":"quantitative","axis":null},"x2":{"datum":9},"y":{"field":"v","type":"quantitative"}}},
   {"transform":[{"filter":"datum.x>0"}],"mark":{"type":"rule"},"encoding":{"x":{"field":"x","type":"quantitative","axis":null},"y":{"field":"lo","type":"quantitative"},"y2":{"field":"hi"},"color":{"condition":{"test":"datum.x==1","value":"black"},"value":"#79b4c1"},"strokeWidth":{"condition":{"test":"datum.x==1","value":3},"value":1.5}}},
   {"transform":[{"filter":"datum.x>0"}],"mark":{"type":"line","color":"#79b4c1","strokeWidth":5.5,"opacity":0.9},"encoding":{"x":{"field":"x","type":"quantitative","axis":null},"y":{"field":"v","type":"quantitative"}}},
   {"transform":[{"filter":"datum.x>0"}],"mark":{"type":"point","shape":"diamond","filled":true,"fill":"#76b2bf","opacity":1},"encoding":{"x":{"field":"x","type":"quantitative","axis":null},"y":{"field":"v","type":"quantitative"},"stroke":{"condition":{"test":"datum.x==1","value":"black"},"value":"white"},"strokeWidth":{"condition":{"test":"datum.x==1","value":2},"value":1.3},"size":{"condition":{"test":"datum.x==1","value":190},"value":120}}},
   {"transform":[{"filter":"datum.s"}],"mark":{"type":"text","baseline":"alphabetic","dy":-2,"fontSize":13,"color":"#222222"},"encoding":{"x":{"field":"x","type":"quantitative","axis":null},"y":{"field":"hi","type":"quantitative"},"text":{"field":"s","type":"nominal"}}},
   {"transform":[{"filter":"datum.k=='box'&&datum.seg=='mid'&&datum.c!='AC'"}],"mark":{"type":"rect","filled":false,"color":"#6e6e6e","strokeWidth":4,"clip":true},"encoding":{"x":{"datum":0.6,"type":"quantitative","axis":null},"x2":{"datum":9.27},"y":{"datum":0.258,"type":"quantitative"},"y2":{"datum":-0.058}}},
   {"transform":[{"filter":"datum.k=='box'&&datum.seg=='bot'&&datum.c=='AC'"}],"mark":{"type":"rect","filled":false,"color":"#6e6e6e","strokeWidth":4,"clip":true},"encoding":{"x":{"datum":0.6,"type":"quantitative","axis":null},"x2":{"datum":9.6},"y":{"datum":0.258,"type":"quantitative"},"y2":{"datum":0.0038}}}
  ]}}
],"spacing":104,"bounds":"flush"},

{"hconcat":[
 {"width":144,"height":107,"data":{"name":"reg"},"transform":[{"filter":"datum.r=='aic'"}],"view":{"fill":"#f5be41","stroke":null},"mark":{"type":"text","color":"white","fontSize":20,"font":"Lato"},"encoding":{"text":{"field":"n","type":"nominal"}}},
 {"data":{"name":"d"},"transform":[{"filter":"datum.r=='aic'"}],"facet":{"column":{"field":"c","type":"nominal","sort":["RC","RA","AA","AC"],"header":null}},"spacing":7,"bounds":"flush",
  "spec":{"width":210,"height":113,"layer":[
   {"transform":[{"filter":"datum.s=='*'||datum.s=='**'||datum.s=='***'"}],"mark":{"type":"rule","strokeWidth":23.75,"clip":true},"encoding":{"x":{"field":"x","type":"quantitative","scale":{"domain":[0.537,9.379],"nice":false,"zero":false,"padding":0},"axis":null},"y":{"datum":0.1792,"type":"quantitative","scale":{"domain":[0,0.1808],"nice":false,"zero":false,"padding":0},"axis":{"values":[0.04,0.08,0.12,0.16],"format":".2f","title":"d(A, B)*"}},"y2":{"datum":0.0112},"color":{"field":"s","type":"nominal","scale":{"domain":["*","**","***"],"range":["#eeeaea","#e8e4e4","#e3dfdf"]},"legend":null}}},
   {"transform":[{"filter":"datum.x==1"}],"mark":{"type":"rule","color":"#f5be41","strokeWidth":2},"encoding":{"x":{"datum":-3.84,"type":"quantitative","axis":null},"x2":{"datum":9.379},"y":{"datum":0.1792,"type":"quantitative"}}},
   {"transform":[{"filter":"datum.x==1"}],"mark":{"type":"rule","color":"#f5be41","strokeWidth":2},"encoding":{"x":{"datum":-3.84,"type":"quantitative","axis":null},"x2":{"datum":9.379},"y":{"datum":0.0112,"type":"quantitative"}}},
   {"transform":[{"filter":"datum.x==1"}],"mark":{"type":"rule","color":"#aaaaaa","strokeWidth":1.5,"strokeDash":[1.5,4.5]},"encoding":{"x":{"datum":1,"type":"quantitative","axis":null},"x2":{"datum":9},"y":{"field":"v","type":"quantitative"}}},
   {"transform":[{"filter":"datum.x>0"}],"mark":{"type":"rule"},"encoding":{"x":{"field":"x","type":"quantitative","axis":null},"y":{"field":"lo","type":"quantitative"},"y2":{"field":"hi"},"color":{"condition":{"test":"datum.x==1","value":"black"},"value":"#f5be41"},"strokeWidth":{"condition":{"test":"datum.x==1","value":3},"value":1.5}}},
   {"transform":[{"filter":"datum.x>0"}],"mark":{"type":"line","color":"#f5be41","strokeWidth":5.5,"opacity":0.9},"encoding":{"x":{"field":"x","type":"quantitative","axis":null},"y":{"field":"v","type":"quantitative"}}},
   {"transform":[{"filter":"datum.x>0"}],"mark":{"type":"point","shape":"triangle-up","filled":true,"fill":"#f4bb3a","opacity":1},"encoding":{"x":{"field":"x","type":"quantitative","axis":null},"y":{"field":"v","type":"quantitative"},"stroke":{"condition":{"test":"datum.x==1","value":"black"},"value":"white"},"strokeWidth":{"condition":{"test":"datum.x==1","value":2},"value":1.3},"size":{"condition":{"test":"datum.x==1","value":190},"value":120}}},
   {"transform":[{"filter":"datum.s"}],"mark":{"type":"text","baseline":"alphabetic","dy":-2,"fontSize":13,"color":"#222222"},"encoding":{"x":{"field":"x","type":"quantitative","axis":null},"y":{"field":"hi","type":"quantitative"},"text":{"field":"s","type":"nominal"}}},
   {"transform":[{"filter":"datum.k=='box'&&datum.seg=='bot'&&datum.c!='AC'"}],"mark":{"type":"rect","filled":false,"color":"#6e6e6e","strokeWidth":4,"clip":true},"encoding":{"x":{"datum":0.6,"type":"quantitative","axis":null},"x2":{"datum":9.27},"y":{"datum":0.231,"type":"quantitative"},"y2":{"datum":0.0112}}},
   {"transform":[{"filter":"datum.k=='box'&&datum.seg=='mid'&&datum.c!='AC'"}],"mark":{"type":"rect","filled":false,"color":"#6e6e6e","strokeWidth":4,"clip":true},"encoding":{"x":{"datum":0.6,"type":"quantitative","axis":null},"x2":{"datum":9.27},"y":{"datum":0.231,"type":"quantitative"},"y2":{"datum":-0.05}}}
  ]}}
],"spacing":104,"bounds":"flush"},

{"hconcat":[
 {"width":144,"height":106,"data":{"name":"reg"},"transform":[{"filter":"datum.r=='pic'"}],"view":{"fill":"#f8a9b0","stroke":null},"mark":{"type":"text","color":"white","fontSize":20,"font":"Lato"},"encoding":{"text":{"field":"n","type":"nominal"}}},
 {"data":{"name":"d"},"transform":[{"filter":"datum.r=='pic'"}],"facet":{"column":{"field":"c","type":"nominal","sort":["RC","RA","AA","AC"],"header":null}},"spacing":7,"bounds":"flush",
  "spec":{"width":210,"height":112,"layer":[
   {"transform":[{"filter":"datum.s=='*'||datum.s=='**'||datum.s=='***'"}],"mark":{"type":"rule","strokeWidth":23.75,"clip":true},"encoding":{"x":{"field":"x","type":"quantitative","scale":{"domain":[0.537,9.379],"nice":false,"zero":false,"padding":0},"axis":null},"y":{"datum":0.17809,"type":"quantitative","scale":{"domain":[-0.00439,0.17973],"nice":false,"zero":false,"padding":0},"axis":{"values":[0.04,0.08,0.12,0.16],"format":".2f","title":"d(A, B)*"}},"y2":{"datum":0.00712},"color":{"field":"s","type":"nominal","scale":{"domain":["*","**","***"],"range":["#eeeaea","#e8e4e4","#e3dfdf"]},"legend":null}}},
   {"transform":[{"filter":"datum.x==1"}],"mark":{"type":"rule","color":"#f8a9b0","strokeWidth":2},"encoding":{"x":{"datum":-3.84,"type":"quantitative","axis":null},"x2":{"datum":9.379},"y":{"datum":0.17809,"type":"quantitative"}}},
   {"transform":[{"filter":"datum.x==1"}],"mark":{"type":"rule","color":"#f8a9b0","strokeWidth":2},"encoding":{"x":{"datum":-3.84,"type":"quantitative","axis":null},"x2":{"datum":9.379},"y":{"datum":0.00712,"type":"quantitative"}}},
   {"transform":[{"filter":"datum.x==1"}],"mark":{"type":"rule","color":"#aaaaaa","strokeWidth":1.5,"strokeDash":[1.5,4.5]},"encoding":{"x":{"datum":1,"type":"quantitative","axis":null},"x2":{"datum":9},"y":{"field":"v","type":"quantitative"}}},
   {"transform":[{"filter":"datum.x>0"}],"mark":{"type":"rule"},"encoding":{"x":{"field":"x","type":"quantitative","axis":null},"y":{"field":"lo","type":"quantitative"},"y2":{"field":"hi"},"color":{"condition":{"test":"datum.x==1","value":"black"},"value":"#f8a9b0"},"strokeWidth":{"condition":{"test":"datum.x==1","value":3},"value":1.5}}},
   {"transform":[{"filter":"datum.x>0"}],"mark":{"type":"line","color":"#f8a9b0","strokeWidth":5.5,"opacity":0.9},"encoding":{"x":{"field":"x","type":"quantitative","axis":null},"y":{"field":"v","type":"quantitative"}}},
   {"transform":[{"filter":"datum.x>0"}],"mark":{"type":"point","shape":"triangle-down","filled":true,"fill":"#f7a6ad","opacity":1},"encoding":{"x":{"field":"x","type":"quantitative","axis":null},"y":{"field":"v","type":"quantitative"},"stroke":{"condition":{"test":"datum.x==1","value":"black"},"value":"white"},"strokeWidth":{"condition":{"test":"datum.x==1","value":2},"value":1.3},"size":{"condition":{"test":"datum.x==1","value":190},"value":120}}},
   {"transform":[{"filter":"datum.s"}],"mark":{"type":"text","baseline":"alphabetic","dy":-2,"fontSize":13,"color":"#222222"},"encoding":{"x":{"field":"x","type":"quantitative","axis":null},"y":{"field":"hi","type":"quantitative"},"text":{"field":"s","type":"nominal"}}},
   {"transform":[{"filter":"datum.k=='box'&&datum.seg=='bot'&&datum.c!='AC'"}],"mark":{"type":"rect","filled":false,"color":"#6e6e6e","strokeWidth":4,"clip":true},"encoding":{"x":{"datum":0.6,"type":"quantitative","axis":null},"x2":{"datum":9.27},"y":{"datum":0.23,"type":"quantitative"},"y2":{"datum":0.0055}}}
  ]}}
],"spacing":104,"bounds":"flush"},

{"hconcat":[
 {"width":144,"height":106,"data":{"name":"reg"},"transform":[{"filter":"datum.r=='nac'"}],"view":{"fill":"#e36a5d","stroke":null},"mark":{"type":"text","color":"white","fontSize":20,"font":"Lato"},"encoding":{"text":{"field":"n","type":"nominal"}}},
 {"data":{"name":"d"},"transform":[{"filter":"datum.r=='nac'"}],"facet":{"column":{"field":"c","type":"nominal","sort":["RC","RA","AA","AC"],"header":null}},"spacing":7,"bounds":"flush",
  "spec":{"width":210,"height":112,"layer":[
   {"transform":[{"filter":"datum.s=='*'||datum.s=='**'||datum.s=='***'"}],"mark":{"type":"rule","strokeWidth":23.75,"clip":true},"encoding":{"x":{"field":"x","type":"quantitative","scale":{"domain":[0.537,9.379],"nice":false,"zero":false,"padding":0},"axis":null},"y":{"datum":0.2375,"type":"quantitative","scale":{"domain":[0.00625,0.23958],"nice":false,"zero":false,"padding":0},"axis":{"values":[0.05,0.1,0.15,0.2],"format":".2f","title":"d(A, B)*"}},"y2":{"datum":0.02083},"color":{"field":"s","type":"nominal","scale":{"domain":["*","**","***"],"range":["#eeeaea","#e8e4e4","#e3dfdf"]},"legend":null}}},
   {"transform":[{"filter":"datum.x==1"}],"mark":{"type":"rule","color":"#e36a5d","strokeWidth":2},"encoding":{"x":{"datum":-3.84,"type":"quantitative","axis":null},"x2":{"datum":9.379},"y":{"datum":0.2375,"type":"quantitative"}}},
   {"transform":[{"filter":"datum.x==1"}],"mark":{"type":"rule","color":"#e36a5d","strokeWidth":2},"encoding":{"x":{"datum":-3.84,"type":"quantitative","axis":null},"x2":{"datum":9.379},"y":{"datum":0.02083,"type":"quantitative"}}},
   {"transform":[{"filter":"datum.x==1"}],"mark":{"type":"rule","color":"#aaaaaa","strokeWidth":1.5,"strokeDash":[1.5,4.5]},"encoding":{"x":{"datum":1,"type":"quantitative","axis":null},"x2":{"datum":9},"y":{"field":"v","type":"quantitative"}}},
   {"transform":[{"filter":"datum.x>0"}],"mark":{"type":"rule"},"encoding":{"x":{"field":"x","type":"quantitative","axis":null},"y":{"field":"lo","type":"quantitative"},"y2":{"field":"hi"},"color":{"condition":{"test":"datum.x==1","value":"black"},"value":"#ec7f71"},"strokeWidth":{"condition":{"test":"datum.x==1","value":3},"value":1.5}}},
   {"transform":[{"filter":"datum.x>0"}],"mark":{"type":"line","color":"#ec7f71","strokeWidth":5.5,"opacity":0.9},"encoding":{"x":{"field":"x","type":"quantitative","axis":null},"y":{"field":"v","type":"quantitative"}}},
   {"transform":[{"filter":"datum.x>0"}],"mark":{"type":"point","shape":"circle","filled":true,"fill":"#eb7b6d","opacity":1},"encoding":{"x":{"field":"x","type":"quantitative","axis":null},"y":{"field":"v","type":"quantitative"},"stroke":{"condition":{"test":"datum.x==1","value":"black"},"value":"white"},"strokeWidth":{"condition":{"test":"datum.x==1","value":2},"value":1.3},"size":{"condition":{"test":"datum.x==1","value":160},"value":90}}},
   {"transform":[{"filter":"datum.s"}],"mark":{"type":"text","baseline":"alphabetic","dy":-2,"fontSize":13,"color":"#222222"},"encoding":{"x":{"field":"x","type":"quantitative","axis":null},"y":{"field":"hi","type":"quantitative"},"text":{"field":"s","type":"nominal"}}},
   {"transform":[{"filter":"datum.k=='box'&&datum.seg=='all'&&datum.c=='AC'"}],"mark":{"type":"rect","filled":false,"color":"#6e6e6e","strokeWidth":4,"clip":true},"encoding":{"x":{"datum":0.6,"type":"quantitative","axis":null},"x2":{"datum":9.6},"y":{"datum":0.225,"type":"quantitative"},"y2":{"datum":0.0208}}}
  ]}}
],"spacing":104,"bounds":"flush"},

{"hconcat":[
 {"width":144,"height":104,"data":{"name":"reg"},"transform":[{"filter":"datum.r=='ctl'"}],"view":{"fill":"#bdbdbd","stroke":null},"mark":{"type":"text","color":"white","fontSize":20,"font":"Lato"},"encoding":{"text":{"field":"n","type":"nominal"}}},
 {"data":{"name":"d"},"transform":[{"filter":"datum.r=='ctl'"}],"facet":{"column":{"field":"c","type":"nominal","sort":["RC","RA","AA","AC"],"header":null}},"spacing":7,"bounds":"flush",
  "spec":{"width":210,"height":107,"layer":[
   {"transform":[{"filter":"datum.x==1"}],"mark":{"type":"rule","color":"#bdbdbd","strokeWidth":2},"encoding":{"x":{"datum":-3.84,"type":"quantitative","scale":{"domain":[0.537,9.379],"nice":false,"zero":false,"padding":0},"axis":{"values":[1,2,3,4,5,6,7,8,9],"format":"d","title":null}},"x2":{"datum":9.379},"y":{"datum":0.1877,"type":"quantitative","scale":{"domain":[0.01393,0.18934],"nice":false,"zero":false,"padding":0},"axis":{"values":[0.05,0.1,0.15],"format":".2f","title":"d(A, B)*"}}}},
   {"transform":[{"filter":"datum.x==1"}],"mark":{"type":"rule","color":"#bdbdbd","strokeWidth":2},"encoding":{"x":{"datum":-3.84,"type":"quantitative","axis":{"values":[1,2,3,4,5,6,7,8,9],"format":"d","title":null}},"x2":{"datum":9.379},"y":{"datum":0.02049,"type":"quantitative"}}},
   {"transform":[{"filter":"datum.x==1"}],"mark":{"type":"rule","color":"#aaaaaa","strokeWidth":1.5,"strokeDash":[1.5,4.5]},"encoding":{"x":{"datum":1,"type":"quantitative","axis":{"values":[1,2,3,4,5,6,7,8,9],"format":"d","title":null}},"x2":{"datum":9},"y":{"field":"v","type":"quantitative"}}},
   {"transform":[{"filter":"datum.x>0"}],"mark":{"type":"rule"},"encoding":{"x":{"field":"x","type":"quantitative","axis":{"values":[1,2,3,4,5,6,7,8,9],"format":"d","title":null}},"y":{"field":"lo","type":"quantitative"},"y2":{"field":"hi"},"color":{"condition":{"test":"datum.x==1","value":"black"},"value":"#c4c4c4"},"strokeWidth":{"condition":{"test":"datum.x==1","value":3},"value":1.5}}},
   {"transform":[{"filter":"datum.x>0"}],"mark":{"type":"line","color":"#c4c4c4","strokeWidth":5.5,"opacity":0.9},"encoding":{"x":{"field":"x","type":"quantitative","axis":{"values":[1,2,3,4,5,6,7,8,9],"format":"d","title":null}},"y":{"field":"v","type":"quantitative"}}},
   {"transform":[{"filter":"datum.x>0"}],"mark":{"type":"point","shape":"square","filled":true,"fill":"#c0c0c0","opacity":1},"encoding":{"x":{"field":"x","type":"quantitative","axis":{"values":[1,2,3,4,5,6,7,8,9],"format":"d","title":null}},"y":{"field":"v","type":"quantitative"},"stroke":{"condition":{"test":"datum.x==1","value":"black"},"value":"white"},"strokeWidth":{"condition":{"test":"datum.x==1","value":2},"value":1.3},"size":{"condition":{"test":"datum.x==1","value":150},"value":95}}},
   {"transform":[{"filter":"datum.s"}],"mark":{"type":"text","baseline":"alphabetic","dy":-2,"fontSize":13,"color":"#222222"},"encoding":{"x":{"field":"x","type":"quantitative","axis":{"values":[1,2,3,4,5,6,7,8,9],"format":"d","title":null}},"y":{"field":"hi","type":"quantitative"},"text":{"field":"s","type":"nominal"}}}
  ]}}
],"spacing":104,"bounds":"flush"}
]
}
